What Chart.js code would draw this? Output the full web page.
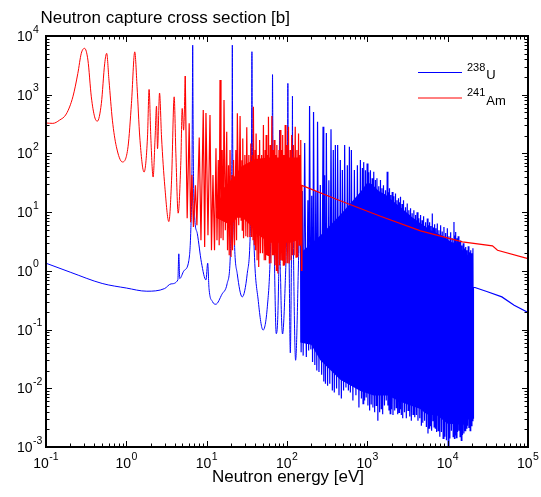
<!DOCTYPE html>
<html>
<head>
<meta charset="utf-8">
<title>Neutron capture cross section</title>
<script src="https://cdn.jsdelivr.net/npm/chart.js@4.4.1/dist/chart.umd.min.js"></script>
<style>
  html, body { margin: 0; padding: 0; background: #fff; }
</style>
</head>
<body>
<canvas id="chart" width="541" height="497"></canvas>
<script>
// values: [energy in eV, capture cross section in barn]

// U-238, thermal part and the first resolved resonances
const u238Resolved = [
  [0.1, 1.35], [0.2, 0.95], [0.5, 0.61], [1.0, 0.51], [1.8, 0.45], [3.0, 0.5], [3.6, 0.6],
  [4.38, 0.7], [4.5, 1.95], [4.62, 0.74], [5.2, 1.0], [6.0, 1.5], [6.35, 5], [6.55, 40],
  [6.64, 700], [6.7, 7000], [6.76, 700], [6.86, 40], [7.1, 8], [7.65, 4.3], [8.6, 1.4],
  [9.8, 0.7], [10.3, 1.35], [10.7, 0.5], [11.8, 0.3], [13.0, 0.27], [15.5, 0.4], [18.0, 0.61],
  [19.8, 2.2], [20.45, 30], [20.75, 500], [20.87, 7000], [21.0, 500], [21.35, 30], [22.3, 2.5],
  [24.0, 0.9], [27.7, 0.36], [32, 0.9], [34.8, 4], [35.9, 40], [36.35, 600], [36.6, 5400],
  [36.85, 600], [37.3, 40], [38.8, 3], [44, 0.3], [50.4, 0.098], [57, 0.25], [62, 2],
  [64.8, 40], [65.6, 400], [66.03, 2200], [66.5, 400], [67.3, 40], [69.5, 2], [73.5, 0.085],
  [78.5, 0.6], [80.2, 10], [80.75, 250], [81.3, 10], [83.5, 0.6], [88, 0.084], [95, 0.6],
  [100, 10], [101.8, 100], [102.5, 1560], [103.2, 100], [105.5, 5], [110, 0.04], [114, 3],
  [116.2, 60], [116.9, 950], [117.6, 60], [120, 3], [128, 0.03], [140, 2]
];

// U-238, dense resonance region: alternating peaks and valleys
const u238Dense = [
  [146, 52], [150, 0.041], [155, 23], [159, 0.036], [166, 150], [174, 0.034], [182, 16],
  [186, 0.044], [191, 640], [198, 0.046], [203, 19], [208, 0.028], [214, 510], [222, 0.025],
  [228, 23], [235, 0.020], [240, 346], [250, 0.019], [260, 29], [270, 0.017], [281, 284],
  [287, 0.013], [294, 42.7], [301, 0.012], [309, 222], [320, 0.011], [332, 35], [341, 0.012],
  [353, 257], [367, 0.0092], [377, 114], [388, 0.0085], [400, 139], [414, 0.0099], [427, 139],
  [444, 0.0076], [461, 77], [475, 0.0067], [489, 52], [506, 0.0092], [522, 139], [542, 0.0103],
  [564, 63], [581, 0.0092], [598, 130], [615, 0.0085], [633, 114], [661, 0.0062], [690, 52],
  [721, 0.0076], [752, 63], [786, 0.0047],
  [820, 76.9], [844, 0.0067], [868, 56.2], [884, 0.0055], [901, 71.1], [925, 0.0062], [947, 51.9],
  [969, 0.0070], [994, 67.5], [1017, 0.0051], [1041, 48.0], [1068, 0.0042], [1093, 51.9],
  [1118, 0.0053], [1148, 37.9], [1174, 0.0047], [1202, 48.6], [1233, 0.0039], [1262, 35.1],
  [1291, 0.0051], [1317, 37.9], [1352, 0.0028], [1387, 27.7], [1423, 0.0039], [1457, 35.1],
  [1491, 0.0045], [1521, 25.6], [1552, 0.0036], [1588, 28.8], [1634, 0.0051], [1682, 23.7],
  [1721, 0.0062], [1766, 48.6], [1802, 0.0051], [1833, 21.9], [1860, 0.0042], [1887, 25.6],
  [1925, 0.0037], [1959, 19.5], [1998, 0.0044], [2039, 22.1], [2086, 0.0035], [2135, 18.7],
  [2191, 0.0042], [2242, 20.8], [2294, 0.0047], [2340, 16.0], [2388, 0.0036], [2444, 17.3],
  [2479, 0.0039], [2515, 14.8], [2551, 0.0045], [2588, 18.2], [2649, 0.0035], [2703, 13.7],
  [2757, 0.0031], [2820, 16.0], [2903, 0.0039], [2988, 12.1], [3058, 0.0031], [3139, 14.0],
  [3212, 0.0042], [3286, 10.8], [3373, 0.0033], [3451, 11.7], [3531, 0.0028], [3613, 9.6],
  [3708, 0.0036], [3794, 10.8], [3894, 0.0032], [3985, 8.9], [4077, 0.0035], [4160, 10.0],
  [4269, 0.0028], [4381, 7.9], [4496, 0.0031], [4600, 8.9], [4707, 0.0023], [4803, 7.3],
  [4900, 0.0026], [5014, 8.5], [5160, 0.0028], [5311, 6.7], [5435, 0.0022], [5577, 7.8],
  [5690, 0.0017], [5789, 6.0], [5873, 0.0021], [5958, 6.7], [6079, 0.0023], [6185, 5.8],
  [6310, 0.0019], [6438, 9.5], [6569, 0.0028], [6683, 5.5], [6780, 0.0022], [6878, 6.2],
  [7018, 0.0021], [7140, 5.3], [7285, 0.0018], [7433, 6.4], [7606, 0.0019], [7783, 4.9],
  [7987, 0.0015], [8173, 6.0], [8363, 0.0018], [8558, 4.7], [8782, 0.0014], [8986, 5.6],
  [9222, 0.0015], [9436, 4.4], [9656, 0.0013], [9909, 5.3], [10140, 0.00106], [10376, 3.9],
  [10648, 0.0014], [10896, 4.55], [11149, 0.0019], [11408, 3.6], [11707, 0.0015], [11979, 6.8],
  [12152, 0.0014], [12293, 4.0], [12435, 0.0016], [12579, 4.6], [12834, 0.00145], [13057, 3.6],
  [13284, 0.0018], [13515, 3.9], [13790, 0.0019], [14030, 3.1], [14274, 0.0015], [14523, 3.3],
  [14776, 0.0013], [15033, 2.7], [15295, 0.0016], [15606, 2.95], [15923, 0.0017], [16200, 2.4],
  [16482, 0.0019], [16769, 2.55], [17061, 0.0021], [17358, 2.24], [17660, 0.0023], [18019, 2.63],
  [18385, 0.0021], [18705, 2.07], [19031, 0.0019], [19362, 2.24], [19699, 0.0023], [20042, 1.99],
  [20332, 0.0028], [20627, 2.43], [20925, 0.0031]
];

// U-238, unresolved / fast part
const u238Fast = [[20950, 0.53], [31300, 0.44], [47300, 0.36], [67200, 0.26], [100000, 0.195]];

// U-238, solid core of the dense band (upper and lower edge)
const u238BandHi = [
  [146, 2], [260, 4], [461, 9], [820, 22], [1000, 32], [1148, 30], [1387, 23], [1682, 20],
  [1959, 16.5], [2340, 13.6], [2703, 11.6], [2988, 10.3], [3286, 9.2], [3613, 8.2], [3985, 7.5],
  [4381, 6.7], [4803, 6.2], [5311, 5.7], [5789, 5.1], [6683, 4.7], [7783, 4.2], [8558, 4.0],
  [9436, 3.7], [10376, 3.3], [11408, 3.05], [13057, 3.05], [14030, 2.6], [15033, 2.3],
  [16200, 2.05], [17358, 1.9], [18705, 1.75], [20627, 1.7]
];
const u238BandLo = [
  [146, 0.06], [200, 0.055], [260, 0.03], [461, 0.014], [820, 0.009], [1200, 0.0075], [1800, 0.0075],
  [2500, 0.006], [3300, 0.0052], [4500, 0.0045], [5500, 0.0036], [7500, 0.0034], [10000, 0.0025],
  [16000, 0.0024], [20627, 0.0036]
];

// Am-241, thermal part and the first resolved resonances
const am241Resolved = [
  [0.1, 330], [0.1216, 325], [0.147, 368], [0.179, 470], [0.216, 920], [0.249, 2300], [0.275, 5070],
  [0.302, 6170], [0.3325, 3890], [0.3666, 920], [0.403, 420], [0.4356, 354], [0.4888, 710],
  [0.5375, 3370], [0.569, 5070], [0.608, 1770], [0.6706, 368], [0.752, 130], [0.894, 71.5],
  [1.05, 130], [1.158, 710], [1.273, 5370], [1.36, 1370], [1.47, 190], [1.663, 48], [1.834, 190],
  [1.92, 1230], [2.017, 190], [2.155, 39.6], [2.282, 190], [2.375, 640], [2.445, 120], [2.59, 1070],
  [2.743, 190], [3.016, 27], [3.383, 6.9], [3.656, 35], [3.94, 920], [4.136, 100], [4.418, 9.6],
  [4.775, 76], [4.96, 583], [5.16, 249], [5.41, 2075]
];

// Am-241, dense resonance region: alternating valleys and peaks
const am241Dense = [
  [5.72, 7.88], [6.06, 325], [6.31, 6.74], [6.55, 42.7], [6.84, 5.61], [7.25, 28.8], [7.56, 6.0],
  [8.08, 187], [8.49, 3.32], [9.07, 548], [9.44, 2.56], [9.80, 487], [10.38, 4.05], [11.0, 450],
  [11.48, 2.24], [11.98, 42.7], [12.52, 2.24], [13.06, 122], [13.44, 3.32], [13.95, 76.9],
  [14.32, 2.73], [14.66, 1779], [15.08, 3.59], [15.61, 114], [16.02, 3.32], [16.44, 811],
  [17.07, 4.92], [17.77, 234], [18.18, 2.24], [18.71, 63.1], [19.09, 1.84], [19.54, 114],
  [20.10, 1.73], [20.69, 42.7], [20.99, 2.24], [21.60, 76.9], [22.23, 2.73], [23.08, 114],
  [23.55, 3.32], [24.10, 481], [25.08, 6.0], [26.05, 433], [26.81, 7.29], [27.43, 76.9],
  [27.74, 4.92], [28.14, 180], [28.80, 3.59], [29.90, 93.6], [30.76, 3.89], [31.57, 278],
  [32.49, 3.74], [33.53, 93.6], [34.51, 3.78], [35.42, 148], [36.25, 3.78], [37.20, 93.6],
  [37.73, 3.32], [38.17, 623], [39.17, 2.73], [40.08, 114], [40.66, 2.24], [41.24, 219],
  [42.45, 1.52], [43.69, 93.6], [44.45, 1.16], [45.61, 169], [46.67, 1.99], [48.31, 93.6],
  [49.58, 1.99], [50.88, 304], [52.06, 1.52], [53.43, 114], [54.20, 1.52], [54.99, 205],
  [56.10, 1.84], [57.41, 93.6], [58.07, 1.84], [58.74, 421], [60.28, 1.33], [61.69, 139],
  [63.12, 1.35], [64.78, 433], [66.09, 1.84], [67.24, 114], [68.21, 1.84], [69.20, 169],
  [70.81, 1.25], [72.66, 93.6], [73.71, 1.02], [74.78, 139], [76.96, 0.90], [79.43, 114],
  [80.81, 1.25], [82.22, 250], [83.89, 1.52], [85.84, 114], [87.08, 1.52], [88.34, 205],
  [89.88, 1.25], [91.7, 93.6], [93.3, 1.25], [94.9, 304], [97.1, 1.35], [99.97, 139],
  [102.0, 1.35], [104.4, 284], [106.5, 1.33], [109.6, 114], [112.1, 1.52], [114.4, 205],
  [116.8, 1.84], [120.2, 139], [122.9, 1.84], [126.6, 284], [129.5, 1.71], [132.9, 114],
  [136.0, 1.73], [139.2, 219], [142.0, 2.73], [144.9, 93.6], [146.6, 2.92], [148.3, 169],
  [151.2, 1.02]
];

// Am-241, smooth part above the resonances
const am241Fast = [
  [153.4, 28.6], [214, 23.7], [420, 16.4], [1457, 8.53], [4603, 4.79], [15260, 3.11],
  [36130, 2.66], [41720, 2.24], [100000, 1.62]
];

// Am-241, solid core of the dense band
const am241BandHi = [[13.06, 10], [16, 25], [20, 35], [22, 40], [27, 60], [40, 80], [60, 85], [150, 85]];
const am241BandLo = [[13.06, 8], [20, 6], [24, 8], [28, 8], [35, 6], [45, 4], [60, 3], [80, 3], [110, 3], [150, 3.5]];

// axis decades and legend entries
const xDecades = [-1, 0, 1, 2, 3, 4, 5];
const yDecades = [-3, -2, -1, 0, 1, 2, 3, 4];
const legendItems = [
  { mass: "238", name: "U", color: "#0000ff" },
  { mass: "241", name: "Am", color: "#ff0000" }
];

const blue = "#0000ff";
const red = "#ff0000";
const fontFamily = '"Liberation Sans", Arial, Helvetica, sans-serif';

// turn [x, y] pairs into chart points
function toPoints(list) {
  return list.map(function (p) { return { x: p[0], y: p[1] }; });
}

// draw "10" with a raised exponent, left edge at x
function drawPower(ctx, exp, x, baseline) {
  ctx.font = "14px " + fontFamily;
  ctx.fillText("10", x, baseline);
  const w = ctx.measureText("10").width;
  ctx.font = "10.5px " + fontFamily;
  ctx.fillText(String(exp), x + w + 0.5, baseline - 8.5);
}

function powerWidth(ctx, exp) {
  ctx.font = "14px " + fontFamily;
  const w = ctx.measureText("10").width;
  ctx.font = "10.5px " + fontFamily;
  return w + 0.5 + ctx.measureText(String(exp)).width;
}

// box, inward ticks, tick labels, titles and legend
const axesBox = {
  id: "axesBox",
  afterDraw(chart) {
    const ctx = chart.ctx;
    const a = chart.chartArea;
    const xs = chart.scales.x;
    const ys = chart.scales.y;
    ctx.save();

    // ticks on all four sides
    ctx.strokeStyle = "#000";
    ctx.lineWidth = 1;
    ctx.beginPath();
    xDecades.forEach(function (p) {
      for (let m = 1; m <= 9; m++) {
        if (p === 5 && m > 1) break;
        const px = Math.round(xs.getPixelForValue(m * Math.pow(10, p))) + 0.5;
        const len = m === 1 ? 6 : 3.5;
        ctx.moveTo(px, a.bottom); ctx.lineTo(px, a.bottom - len);
        ctx.moveTo(px, a.top); ctx.lineTo(px, a.top + len);
      }
    });
    yDecades.forEach(function (p) {
      for (let m = 1; m <= 9; m++) {
        if (p === 4 && m > 1) break;
        const py = Math.round(ys.getPixelForValue(m * Math.pow(10, p))) + 0.5;
        const len = m === 1 ? 6 : 3.5;
        ctx.moveTo(a.left, py); ctx.lineTo(a.left + len, py);
        ctx.moveTo(a.right, py); ctx.lineTo(a.right - len, py);
      }
    });
    ctx.stroke();

    // frame
    ctx.lineWidth = 2;
    ctx.strokeRect(a.left, a.top, a.right - a.left, a.bottom - a.top);

    // tick labels
    ctx.fillStyle = "#000";
    ctx.textAlign = "left";
    ctx.textBaseline = "alphabetic";
    xDecades.forEach(function (p) {
      const px = xs.getPixelForValue(Math.pow(10, p));
      drawPower(ctx, p, px - powerWidth(ctx, p) / 2, 468);
    });
    yDecades.forEach(function (p) {
      const py = ys.getPixelForValue(Math.pow(10, p));
      ctx.font = "14px " + fontFamily;
      const w = ctx.measureText("10").width;
      drawPower(ctx, p, 32.5 - w, py + 5);
    });

    // titles
    ctx.font = "17px " + fontFamily;
    ctx.fillText("Neutron capture cross section [b]", 40.5, 23);
    ctx.textAlign = "center";
    ctx.fillText("Neutron energy [eV]", (a.left + a.right) / 2 + 1, 482);

    // legend
    ctx.textAlign = "left";
    legendItems.forEach(function (item, i) {
      const ly = 72.5 + i * 25.5;
      ctx.strokeStyle = item.color;
      ctx.lineWidth = 1;
      ctx.beginPath();
      ctx.moveTo(418, ly);
      ctx.lineTo(462, ly);
      ctx.stroke();
      ctx.fillStyle = "#000";
      ctx.font = "11px " + fontFamily;
      ctx.fillText(item.mass, 467, ly - 2);
      const w = ctx.measureText(item.mass).width;
      ctx.font = "13px " + fontFamily;
      ctx.fillText(item.name, 467 + w + 1, ly + 6.5);
    });

    ctx.restore();
  }
};

// a plain line dataset
function curve(label, list, color, order, smooth, width) {
  return {
    label: label,
    data: toPoints(list),
    borderColor: color,
    borderWidth: width || 1,
    pointRadius: 0,
    fill: false,
    cubicInterpolationMode: smooth ? "monotone" : "default",
    order: order
  };
}

// upper edge of a band, filled down to the next dataset
function bandTop(label, list, color, order) {
  return {
    label: label,
    data: toPoints(list),
    borderColor: color,
    backgroundColor: color,
    borderWidth: 0,
    pointRadius: 0,
    fill: "+1",
    order: order
  };
}

const canvas = document.getElementById("chart");

const myChart = new Chart(canvas.getContext("2d"), {
  type: "line",
  data: {
    datasets: [
      curve("241Am resolved", am241Resolved, red, 1, true),
      curve("241Am", am241Resolved.slice(-1).concat(am241Dense, am241Fast), red, 1, false, 1.2),
      bandTop("241Am band", am241BandHi, red, 2),
      curve("241Am band low", am241BandLo, "rgba(0,0,0,0)", 2, false),
      curve("238U resolved", u238Resolved, blue, 3, true),
      curve("238U", u238Resolved.slice(-1).concat(u238Dense, u238Fast), blue, 3, false, 1.2),
      bandTop("238U band", u238BandHi, blue, 4),
      curve("238U band low", u238BandLo, "rgba(0,0,0,0)", 4, false)
    ]
  },
  options: {
    responsive: false,
    animation: false,
    events: [],
    layout: { padding: { left: 46, right: 13, top: 36, bottom: 50 } },
    elements: { line: { tension: 0 } },
    scales: {
      x: { type: "logarithmic", min: 0.1, max: 100000, display: false },
      y: { type: "logarithmic", min: 0.001, max: 10000, display: false }
    },
    plugins: {
      legend: { display: false },
      tooltip: { enabled: false }
    }
  },
  plugins: [axesBox]
});
</script>
</body>
</html>
